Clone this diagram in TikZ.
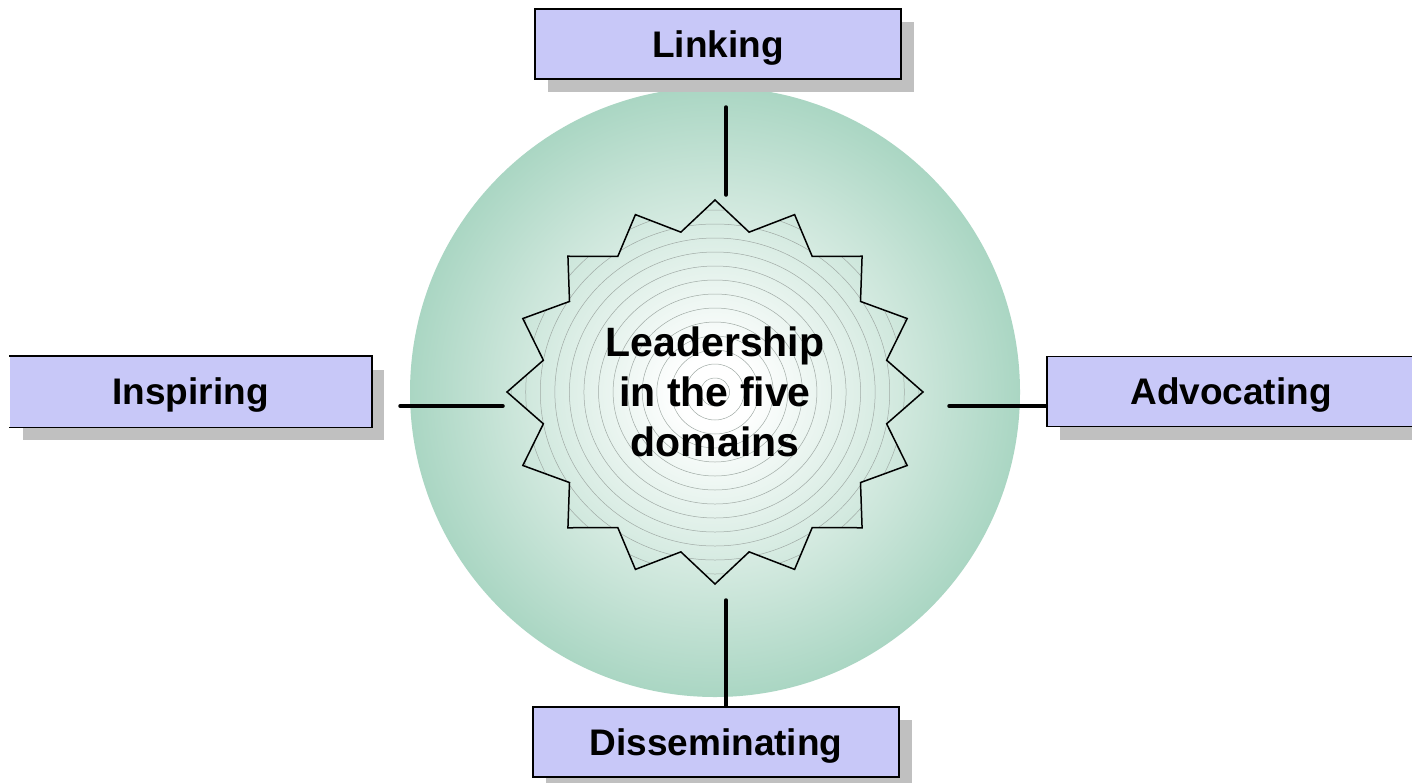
\documentclass[tikz,border=0pt]{standalone}
\usepackage{fontspec}
\setmainfont{Liberation Sans}
\usetikzlibrary{shadows}
\definecolor{boxfill}{RGB}{200,200,248}
\definecolor{shadowgray}{RGB}{192,192,192}
\definecolor{cmid}{RGB}{202,229,217}
\definecolor{cedge}{RGB}{170,214,195}
\definecolor{contourgray}{RGB}{160,170,165}
\pgfdeclareradialshading{circshade}{\pgfpointorigin}{color(0bp)=(white); color(3bp)=(white); color(17bp)=(cmid); color(25bp)=(cedge); color(50bp)=(cedge)}
\newcommand{\mystarpath}{(0:208) \foreach \i in {1,...,31}{ -- ({\i*11.25}:{175+33*(1-mod(\i,2))} and {163+29*(1-mod(\i,2))})} -- cycle}
\begin{document}
\begin{tikzpicture}[x=1pt,y=-1pt,
  box/.style={rectangle, fill=boxfill, draw=black, line width=1.5pt, minimum height=70pt, inner sep=0pt,
    font=\bfseries\fontsize{37}{44}\selectfont, text height=26.6pt, text depth=0pt,
    drop shadow={shadow xshift=13pt, shadow yshift=-13pt, fill=shadowgray, opacity=1, draw=none}},
  conn/.style={line width=3.5pt, line cap=round, draw=black},
  contour/.style={draw=contourgray, line width=0.5pt},
  startline/.style={draw=black, line width=1.5pt, line join=miter}]
\useasboundingbox (0,0) rectangle (1412,782);
\clip (0,0) rectangle (1412,782);
\fill[white] (0,0) rectangle (1412,782);
% background disc
\shade[shading=circshade] (715,392) circle[radius=305];
% star with contour rings
\begin{scope}[shift={(715,392)}]
  \begin{scope}
    \clip \mystarpath;
    \foreach \r in {14,28,...,238} \draw[contour] (0,0) circle[x radius=\r*1.04, y radius=\r];
  \end{scope}
  \draw[startline] \mystarpath;
\end{scope}
\node[font=\bfseries\fontsize{41}{50}\selectfont, align=center] (core) at (715,392) {Leadership\\in the five\\domains};
% boxes
\node[box, minimum width=366pt] (link) at (718,44) {Linking};
\node[box, minimum width=366pt] (diss) at (716,742) {Disseminating};
\node[box, minimum width=368pt] (adv) at (1231,391.5) {Advocating};
\node[box, draw=none, minimum width=361pt] (insp) at (190.5,391.5) {Inspiring};
\draw[line width=1.5pt] (insp.north west) -- (insp.north east) -- (insp.south east) -- (insp.south west);
% connectors
\coordinate (t1) at (726,107);
\coordinate (t2) at (726,195);
\coordinate (b1) at (726,600);
\coordinate (l1) at (400,406);
\coordinate (l2) at (503,406);
\coordinate (r1) at (949,406);
\draw[conn] (t1) -- (t2);
\draw[conn] (b1) -- (b1 |- diss.north);
\draw[conn] (l1) -- (l2);
\draw[conn] (r1) -- (r1 -| adv.west);
\end{tikzpicture}
\end{document}
